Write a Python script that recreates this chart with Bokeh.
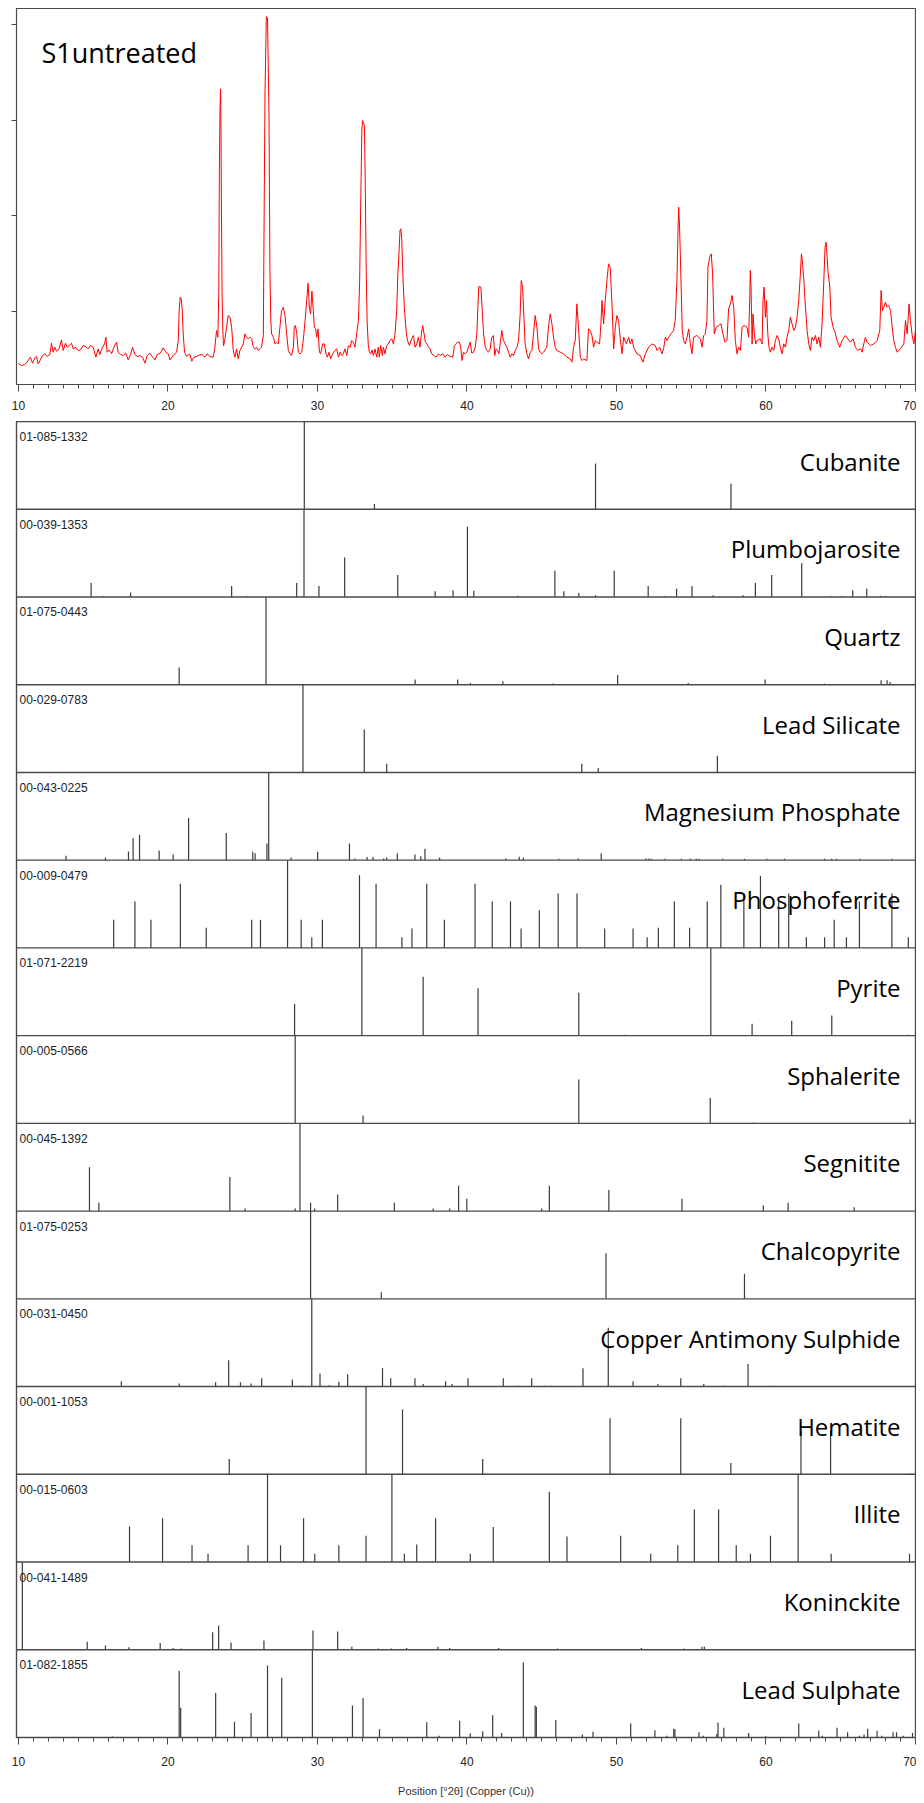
from bokeh.plotting import figure
from bokeh.layouts import column
from bokeh.models import Range1d, SingleIntervalTicker, FixedTicker, Span, CustomJSTickFormatter
from bokeh.core.properties import value
from bokeh.embed import file_html
from bokeh.resources import INLINE

# ---------------- data ----------------
SAMPLE_NAME = "S1untreated"
X_AXIS_LABEL = "Position [°2θ] (Copper (Cu))"
X_START, X_END = 9.87, 70.0
Y_BOTTOM, Y_TOP = 236, 4172
Y_TICKS = [1000, 2000, 3000, 4000]

SCAN_2THETA = [
    10.00, 10.04, 10.20, 10.42, 10.58, 10.71, 10.80, 10.94, 11.09, 11.21,
    11.32, 11.47, 11.61, 11.76, 11.92, 12.10, 12.21, 12.32, 12.43, 12.54,
    12.72, 12.88, 12.99, 13.15, 13.26, 13.39, 13.55, 13.66, 13.84, 13.99,
    14.15, 14.33, 14.51, 14.66, 14.82, 15.00, 15.18, 15.33, 15.44, 15.62,
    15.76, 15.85, 15.93, 16.07, 16.23, 16.38, 16.56, 16.67, 16.83, 17.01,
    17.18, 17.34, 17.50, 17.63, 17.79, 17.94, 18.12, 18.30, 18.46, 18.61,
    18.79, 18.97, 19.13, 19.28, 19.50, 19.68, 19.86, 20.02, 20.13, 20.26,
    20.40, 20.58, 20.69, 20.75, 20.82, 20.89, 20.96, 21.02, 21.11, 21.25,
    21.38, 21.47, 21.60, 21.74, 21.91, 22.09, 22.27, 22.47, 22.63, 22.81,
    23.03, 23.14, 23.25, 23.34, 23.40, 23.44, 23.48, 23.52, 23.55, 23.58,
    23.62, 23.67, 23.72, 23.80, 23.92, 24.03, 24.15, 24.26, 24.37, 24.48,
    24.59, 24.70, 24.81, 24.93, 25.04, 25.15, 25.26, 25.37, 25.48, 25.60,
    25.71, 25.82, 25.93, 26.04, 26.26, 26.38, 26.42, 26.49, 26.58, 26.66,
    26.76, 26.82, 26.88, 26.93, 27.05, 27.16, 27.27, 27.38, 27.49, 27.60,
    27.72, 27.83, 27.94, 28.05, 28.16, 28.27, 28.39, 28.45, 28.52, 28.61,
    28.72, 28.83, 28.94, 29.05, 29.17, 29.28, 29.37, 29.46, 29.54, 29.63,
    29.72, 29.79, 29.88, 29.95, 30.04, 30.13, 30.21, 30.35, 30.46, 30.57,
    30.66, 30.77, 30.88, 31.02, 31.17, 31.29, 31.40, 31.51, 31.62, 31.73,
    31.84, 31.96, 32.07, 32.18, 32.29, 32.40, 32.51, 32.62, 32.74, 32.82,
    32.90, 32.97, 33.02, 33.08, 33.14, 33.20, 33.26, 33.32, 33.40, 33.47,
    33.56, 33.65, 33.74, 33.85, 33.96, 34.07, 34.14, 34.23, 34.34, 34.41,
    34.52, 34.63, 34.74, 34.85, 34.97, 35.08, 35.19, 35.30, 35.38, 35.45,
    35.52, 35.58, 35.64, 35.72, 35.81, 35.93, 36.02, 36.15, 36.30, 36.42,
    36.53, 36.64, 36.75, 36.86, 36.95, 37.04, 37.13, 37.22, 37.31, 37.44,
    37.53, 37.64, 37.80, 37.93, 38.09, 38.20, 38.38, 38.54, 38.69, 38.87,
    39.05, 39.16, 39.27, 39.36, 39.50, 39.58, 39.67, 39.76, 39.88, 39.99,
    40.10, 40.21, 40.32, 40.44, 40.55, 40.66, 40.73, 40.79, 40.93, 41.02,
    41.11, 41.22, 41.33, 41.44, 41.55, 41.66, 41.77, 41.86, 41.95, 42.04,
    42.13, 42.22, 42.33, 42.44, 42.56, 42.67, 42.78, 42.89, 43.00, 43.11,
    43.23, 43.34, 43.45, 43.56, 43.63, 43.72, 43.81, 43.89, 44.01, 44.12,
    44.23, 44.34, 44.45, 44.56, 44.68, 44.79, 44.90, 45.01, 45.12, 45.34,
    45.46, 45.57, 45.68, 45.79, 45.90, 46.01, 46.24, 46.46, 46.68, 46.91,
    47.02, 47.13, 47.24, 47.35, 47.46, 47.58, 47.69, 47.80, 48.02, 48.13,
    48.25, 48.36, 48.47, 48.58, 48.69, 48.87, 48.96, 49.03, 49.14, 49.25,
    49.36, 49.47, 49.58, 49.70, 49.81, 49.92, 50.03, 50.14, 50.25, 50.37,
    50.48, 50.66, 50.81, 50.92, 51.03, 51.15, 51.37, 51.59, 51.77, 51.93,
    52.15, 52.37, 52.60, 52.71, 52.89, 53.04, 53.15, 53.27, 53.38, 53.49,
    53.64, 53.82, 53.93, 54.05, 54.11, 54.16, 54.22, 54.31, 54.40, 54.49,
    54.60, 54.72, 54.83, 54.94, 55.05, 55.16, 55.38, 55.61, 55.72, 55.83,
    55.94, 56.05, 56.12, 56.23, 56.34, 56.43, 56.54, 56.68, 56.83, 56.99,
    57.12, 57.26, 57.39, 57.50, 57.62, 57.73, 57.84, 57.95, 58.06, 58.17,
    58.29, 58.40, 58.55, 58.73, 58.84, 58.91, 58.95, 59.00, 59.07, 59.13,
    59.22, 59.31, 59.40, 59.62, 59.74, 59.80, 59.87, 59.96, 60.03, 60.12,
    60.20, 60.29, 60.40, 60.52, 60.63, 60.74, 60.85, 60.96, 61.07, 61.19,
    61.30, 61.41, 61.52, 61.63, 61.74, 61.86, 61.97, 62.08, 62.19, 62.30,
    62.37, 62.43, 62.52, 62.64, 62.75, 62.86, 62.97, 63.08, 63.19, 63.31,
    63.42, 63.53, 63.64, 63.75, 63.86, 63.95, 64.02, 64.09, 64.15, 64.27,
    64.35, 64.49, 64.62, 64.76, 64.93, 65.09, 65.31, 65.47, 65.65, 65.83,
    65.98, 66.14, 66.32, 66.43, 66.54, 66.65, 66.76, 66.99, 67.21, 67.43,
    67.61, 67.70, 67.79, 67.88, 67.99, 68.10, 68.21, 68.33, 68.44, 68.55,
    68.66, 68.77, 68.99, 69.22, 69.33, 69.44, 69.57, 69.66, 69.78, 69.89,
    70.00,
]
SCAN_COUNTS = [
    459, 452, 434, 445, 469, 504, 522, 459, 515, 529,
    452, 494, 539, 557, 529, 550, 668, 574, 626, 585,
    609, 703, 592, 668, 626, 644, 668, 609, 626, 592,
    598, 644, 633, 609, 644, 626, 522, 609, 550, 626,
    661, 731, 574, 598, 557, 626, 679, 574, 550, 539,
    564, 494, 550, 626, 550, 529, 539, 522, 459, 539,
    564, 522, 494, 550, 564, 619, 574, 557, 494, 522,
    550, 574, 696, 1010, 1150, 1132, 1010, 766, 574, 529,
    550, 550, 480, 522, 529, 543, 550, 522, 557, 529,
    522, 626, 801, 731, 1200, 2476, 3100, 3331, 2860, 2000,
    1200, 800, 640, 700, 836, 958, 941, 836, 592, 522,
    609, 504, 592, 626, 661, 766, 731, 714, 731, 714,
    626, 609, 626, 592, 626, 749, 1708, 3279, 4088, 4070,
    3035, 1429, 900, 766, 731, 661, 679, 661, 836, 1010,
    1045, 958, 766, 592, 557, 539, 626, 836, 853, 783,
    574, 557, 574, 696, 906, 1115, 1296, 1045, 975, 1213,
    1010, 836, 818, 731, 818, 574, 557, 661, 661, 557,
    522, 574, 504, 557, 592, 609, 522, 574, 539, 557,
    609, 539, 644, 626, 696, 679, 626, 766, 906, 1300,
    2200, 2900, 2999, 2980, 2947, 2300, 1450, 900, 650, 574,
    557, 598, 539, 609, 522, 626, 522, 644, 539, 626,
    557, 644, 661, 696, 714, 661, 766, 1010, 1400, 1600,
    1848, 1865, 1750, 1350, 1045, 801, 696, 644, 714, 749,
    626, 661, 731, 626, 766, 853, 766, 679, 661, 626,
    609, 557, 539, 522, 557, 539, 557, 522, 550, 529,
    522, 644, 661, 679, 679, 626, 487, 574, 557, 574,
    626, 679, 564, 574, 626, 766, 1045, 1262, 1255, 1010,
    766, 626, 592, 574, 609, 731, 749, 539, 609, 592,
    557, 661, 801, 696, 661, 626, 574, 522, 557, 539,
    592, 626, 696, 975, 1324, 1255, 941, 661, 557, 504,
    574, 592, 766, 958, 836, 609, 574, 557, 574, 626,
    853, 975, 871, 731, 626, 592, 574, 557, 522, 504,
    469, 626, 696, 1080, 836, 522, 487, 504, 487, 818,
    801, 749, 626, 696, 679, 661, 871, 1115, 871, 1115,
    1324, 1499, 1464, 1080, 609, 836, 958, 906, 714, 557,
    731, 661, 731, 661, 714, 626, 557, 539, 469, 557,
    626, 661, 644, 592, 626, 557, 609, 731, 696, 731,
    766, 801, 906, 1359, 1813, 2092, 1883, 1359, 801, 696,
    661, 731, 818, 661, 557, 731, 749, 714, 626, 749,
    766, 906, 1464, 1569, 1604, 1394, 766, 836, 853, 871,
    766, 679, 696, 1028, 1080, 1167, 1045, 696, 557, 626,
    592, 836, 853, 836, 731, 1115, 1429, 1255, 661, 975,
    766, 661, 696, 714, 661, 1115, 1255, 941, 1115, 766,
    626, 574, 626, 592, 696, 749, 714, 626, 557, 661,
    626, 731, 801, 941, 871, 801, 836, 941, 1115, 1394,
    1604, 1534, 1359, 1045, 801, 661, 592, 731, 696, 749,
    661, 731, 626, 871, 1289, 1673, 1726, 1569, 1412, 1255,
    941, 836, 783, 696, 626, 696, 749, 714, 679, 714,
    626, 592, 609, 574, 661, 731, 679, 644, 661, 696,
    801, 1220, 1010, 1045, 1098, 1045, 1063, 1010, 836, 696,
    626, 574, 609, 661, 906, 766, 1080, 906, 749, 661,
    801,
]

PHASE_NAMES = ["Cubanite", "Plumbojarosite", "Quartz", "Lead Silicate",
               "Magnesium Phosphate", "Phosphoferrite", "Pyrite", "Sphalerite",
               "Segnitite", "Chalcopyrite", "Copper Antimony Sulphide",
               "Hematite", "Illite", "Koninckite", "Lead Sulphate"]
REF_CODES = ["01-085-1332", "00-039-1353", "01-075-0443", "00-029-0783",
             "00-043-0225", "00-009-0479", "01-071-2219", "00-005-0566",
             "00-045-1392", "01-075-0253", "00-031-0450", "00-001-1053",
             "00-015-0603", "00-041-1489", "01-082-1855"]

CUBANITE_POS = [29.12, 33.81, 48.60, 57.66]
CUBANITE_INT = [100, 6, 52, 29]

PLUMBOJAROSITE_POS = [14.86, 15.67, 17.50, 24.26, 25.28, 28.61, 29.10, 30.10, 31.82, 35.37,
                      37.87, 39.07, 40.03, 40.46, 43.40, 45.88, 46.48, 47.48, 48.60, 49.85,
                      52.12, 53.24, 54.02, 55.05, 56.47, 58.46, 59.29, 60.38, 62.39, 64.33,
                      65.09, 65.80, 66.74, 67.70, 68.01]
PLUMBOJAROSITE_INT = [16, 1, 5, 12.6, 1, 16, 100, 12.6, 45, 25,
                      6.5, 7.6, 80, 7, 1.5, 30, 6.5, 4.5, 2, 30,
                      12.6, 1, 9.5, 12.6, 2, 2, 16, 25, 38.5, 1,
                      1, 7.6, 9.5, 1.5, 1]

QUARTZ_POS = [20.75, 26.56, 36.53, 39.38, 40.23, 42.40, 45.75, 50.08, 54.80, 59.94,
              63.90, 67.70, 68.10, 68.30]
QUARTZ_INT = [19.5, 100, 6, 6, 2, 4, 1.5, 11, 2, 6, 1.5, 5, 5, 3]

LEAD_SILICATE_POS = [29.03, 33.13, 34.63, 47.68, 48.78, 56.75]
LEAD_SILICATE_INT = [100, 49, 10, 10, 5, 19]

MG_PHOSPHATE_POS = [13.18, 15.82, 17.36, 17.67, 18.10, 19.41, 20.35, 21.38, 23.90, 25.67,
                    25.83, 26.62, 26.74, 28.24, 30.01, 32.14, 32.50, 33.32, 33.72, 34.43,
                    34.63, 35.34, 36.52, 36.91, 37.19, 38.17, 42.59, 43.50, 43.77, 46.14,
                    47.44, 48.98, 51.98, 52.17, 52.33, 53.24, 54.34, 54.93, 55.33, 55.52,
                    57.10, 58.56, 60.06, 61.24, 63.92, 64.40, 64.71, 66.29, 68.42]
MG_PHOSPHATE_INT = [5, 3, 10, 25, 29, 11, 6.5, 48, 31, 9.5,
                    8, 19, 100, 3, 9.5, 19, 2, 3.5, 3.5, 2,
                    3, 8, 6.5, 4.5, 13, 3, 2, 4, 3, 1.5,
                    2, 8, 2, 2, 1.5, 1.5, 1.5, 2, 1.5, 1.5,
                    1.5, 1.5, 1.5, 1.5, 1.5, 1.5, 1.5, 1.5, 1.5]

PHOSPHOFERRITE_POS = [16.37, 17.79, 18.86, 20.83, 22.56, 25.60, 26.19, 28.00, 28.91, 29.62,
                      30.33, 32.81, 33.92, 35.65, 36.32, 37.31, 38.49, 40.54, 41.69, 42.91,
                      43.62, 44.84, 46.10, 47.36, 49.21, 51.11, 52.05, 52.80, 53.87, 54.89,
                      56.07, 56.98, 58.52, 59.63, 60.85, 61.52, 62.70, 63.92, 64.56, 65.38,
                      66.25, 68.42, 69.52]
PHOSPHOFERRITE_INT = [32, 53, 32, 73, 23, 32, 32, 100, 32, 12,
                      32, 83, 73, 12, 22, 73, 32, 73, 53, 53,
                      22, 43, 62, 62, 22, 22, 12, 23, 53, 23,
                      53, 72, 62, 82, 53, 62, 12, 12, 32, 12,
                      53, 62, 12]

PYRITE_POS = [28.47, 32.97, 37.07, 40.74, 47.48, 50.56, 56.31, 59.07, 61.72, 64.40, 69.52]
PYRITE_INT = [36, 100, 67, 54, 49, 1, 100, 13.5, 17, 23, 1]

SPHALERITE_POS = [28.51, 33.05, 47.48, 56.27, 59.19, 69.64]
SPHALERITE_INT = [100, 9, 50, 29, 1, 4.5]

SEGNITITE_POS = [14.75, 15.38, 24.14, 25.16, 28.51, 28.83, 29.54, 29.81, 31.35, 35.14,
                 37.74, 38.84, 39.44, 39.99, 45.00, 45.51, 49.49, 54.38, 59.82, 61.48,
                 65.90]
SEGNITITE_INT = [50, 9.5, 39, 3, 3, 100, 9.5, 3, 19, 9.5,
                 3, 3, 29, 14, 3, 29, 24, 14, 6.5, 9.5,
                 4.5]

CHALCOPYRITE_POS = [29.54, 34.27, 49.30, 58.56]
CHALCOPYRITE_INT = [100, 7.6, 52, 28.5]

CU_SB_SULPHIDE_POS = [16.88, 20.75, 23.19, 24.06, 24.85, 25.56, 26.27, 28.32, 29.03, 29.62,
                      30.17, 30.80, 31.43, 32.02, 34.35, 34.90, 36.52, 37.07, 38.57, 39.00,
                      40.07, 42.43, 43.42, 44.33, 45.23, 45.63, 47.76, 49.45, 51.11, 52.77,
                      54.30, 55.84, 57.22, 58.80, 60.30]
CU_SB_SULPHIDE_INT = [6, 3.5, 5, 30, 5, 3.5, 9.5, 8, 1, 100,
                      15, 1.5, 5.5, 14, 21, 9.5, 9.5, 3, 6, 3,
                      9.5, 9.5, 1, 9.5, 1, 1, 21, 67, 6, 3,
                      9.5, 3, 1, 25.6, 1]

HEMATITE_POS = [24.10, 33.25, 35.69, 41.05, 49.57, 54.30, 57.65, 62.34, 64.32, 69.64]
HEMATITE_INT = [17.4, 100, 74, 17.4, 64, 64, 13, 50, 50, 1]

ILLITE_POS = [17.43, 19.64, 21.61, 22.68, 25.36, 26.66, 27.53, 29.07, 29.82, 31.43,
              33.25, 34.98, 35.81, 36.64, 37.90, 40.22, 41.76, 45.51, 46.69, 50.28,
              52.29, 54.10, 55.21, 56.83, 58.01, 58.96, 60.30, 62.15, 64.36, 69.60]
ILLITE_INT = [40.5, 50, 19, 9.5, 19, 100, 19, 50, 9.5, 19,
              30, 100, 9.5, 20, 50, 9.5, 40, 80, 29, 30,
              9.5, 19, 60, 60, 19, 9.5, 30, 100, 9.5, 9.5]

KONINCKITE_POS = [10.26, 14.60, 15.82, 17.39, 19.48, 20.35, 20.90, 22.99, 23.39, 24.22,
                  26.42, 27.45, 29.70, 31.35, 32.30, 34.07, 34.94, 35.97, 38.06, 38.84,
                  42.12, 44.01, 46.06, 49.17, 51.66, 54.54, 55.72, 55.88, 60.30, 63.10]
KONINCKITE_INT = [100, 9, 5, 3, 7.7, 2, 1.5, 20, 27.6, 8.4,
                  10.7, 1, 22, 20.7, 3.5, 1.5, 1.5, 2, 3.5, 2,
                  2, 1, 1.5, 1, 2, 1.5, 3.5, 3.5, 1, 1]

LEAD_SULPHATE_POS = [16.29, 20.75, 20.85, 23.19, 24.45, 25.56, 26.66, 27.61, 29.66, 32.34,
                     33.05, 34.15, 37.31, 38.13, 39.51, 40.22, 41.05, 41.72, 42.32, 43.77,
                     44.56, 44.64, 45.94, 47.72, 48.43, 50.95, 52.57, 53.36, 53.83, 53.91,
                     55.52, 55.80, 56.71, 56.79, 57.18, 58.84, 59.98, 62.19, 63.53, 63.76,
                     64.75, 65.46, 66.25, 66.56, 66.80, 67.43, 67.74, 68.50, 68.73, 69.17,
                     69.80]
LEAD_SULPHATE_INT = [1, 76, 34, 50.6, 18, 28, 82, 68, 100, 36.5,
                     45, 9.5, 17.5, 2, 19, 4.5, 7, 25.5, 5, 85.5,
                     36.5, 35, 20, 3.5, 6.5, 16, 8.4, 2, 10, 9.5,
                     6, 2, 4, 17, 11, 5, 1.5, 16, 8, 2,
                     11, 6, 2, 3.5, 10, 7.6, 2, 6, 6, 2,
                     5]

PHASE_STICKS = [
    (CUBANITE_POS, CUBANITE_INT),
    (PLUMBOJAROSITE_POS, PLUMBOJAROSITE_INT),
    (QUARTZ_POS, QUARTZ_INT),
    (LEAD_SILICATE_POS, LEAD_SILICATE_INT),
    (MG_PHOSPHATE_POS, MG_PHOSPHATE_INT),
    (PHOSPHOFERRITE_POS, PHOSPHOFERRITE_INT),
    (PYRITE_POS, PYRITE_INT),
    (SPHALERITE_POS, SPHALERITE_INT),
    (SEGNITITE_POS, SEGNITITE_INT),
    (CHALCOPYRITE_POS, CHALCOPYRITE_INT),
    (CU_SB_SULPHIDE_POS, CU_SB_SULPHIDE_INT),
    (HEMATITE_POS, HEMATITE_INT),
    (ILLITE_POS, ILLITE_INT),
    (KONINCKITE_POS, KONINCKITE_INT),
    (LEAD_SULPHATE_POS, LEAD_SULPHATE_INT),
]

# ---------------- styles ----------------
FRAME_COLOR = "#4a4a4a"
TICK_FONT = value("Liberation Sans")
N = len(PHASE_NAMES)


def style_xaxis(ax):
    ax.ticker = SingleIntervalTicker(interval=10, num_minor_ticks=10)
    ax.axis_line_color = FRAME_COLOR
    ax.axis_line_width = 1.2
    ax.major_tick_line_color = FRAME_COLOR
    ax.minor_tick_line_color = FRAME_COLOR
    ax.major_tick_in = 0
    ax.minor_tick_in = 0
    ax.major_tick_out = 7
    ax.minor_tick_out = 4
    ax.major_label_text_font = "Liberation Sans"
    ax.major_label_text_font_size = "12px"
    ax.major_label_text_color = "#222222"


# ---------------- top panel: measured scan ----------------
p1 = figure(frame_width=899, frame_height=376,
            x_range=Range1d(X_START, X_END), y_range=Range1d(Y_BOTTOM, Y_TOP),
            output_backend="svg", toolbar_location=None,
            min_border_left=16, min_border_right=1, min_border_top=8, min_border_bottom=37,
            background_fill_color="white", border_fill_color="white")
p1.grid.visible = False
p1.outline_line_color = FRAME_COLOR
p1.outline_line_width = 1.2
p1.line(SCAN_2THETA, SCAN_COUNTS, line_color="#ff0000", line_width=1)
style_xaxis(p1.xaxis[0])
p1.xaxis[0].major_label_standoff = 9
ya = p1.yaxis[0]
ya.ticker = FixedTicker(ticks=Y_TICKS)
ya.formatter = CustomJSTickFormatter(code="return '';")
ya.axis_line_color = FRAME_COLOR
ya.major_tick_line_color = FRAME_COLOR
ya.major_tick_in = 0
ya.major_tick_out = 5
ya.minor_tick_out = 0
ya.minor_tick_in = 0
ya.major_label_standoff = 0
p1.text(x=[X_START], y=[Y_TOP], text=[SAMPLE_NAME], x_offset=25, y_offset=44,
        text_font=value("Open Sans"), text_font_size="27px", text_color="black",
        text_baseline="alphabetic")

# ---------------- lower panels: reference sticks ----------------
p2 = figure(frame_width=899, frame_height=1316,
            x_range=Range1d(X_START, X_END), y_range=Range1d(0, N),
            y_axis_location=None,
            output_backend="svg", toolbar_location=None,
            min_border_left=16, min_border_right=1, min_border_top=0, min_border_bottom=64,
            background_fill_color="white", border_fill_color="white")
p2.grid.visible = False
p2.outline_line_color = FRAME_COLOR
p2.outline_line_width = 1.4
style_xaxis(p2.xaxis[0])
p2.xaxis[0].major_label_standoff = 12
p2.xaxis[0].axis_label = X_AXIS_LABEL
p2.xaxis[0].axis_label_text_font = "Liberation Sans"
p2.xaxis[0].axis_label_text_font_style = "normal"
p2.xaxis[0].axis_label_text_font_size = "11px"
p2.xaxis[0].axis_label_text_color = "#333333"
p2.xaxis[0].axis_label_standoff = 16

xs0, ys0, ys1 = [], [], []
for i, (pos, inten) in enumerate(PHASE_STICKS):
    base = N - 1 - i
    for xv, hv in zip(pos, inten):
        xs0.append(xv)
        ys0.append(base)
        ys1.append(base + hv / 100.0)
p2.segment(x0=xs0, y0=ys0, x1=xs0, y1=ys1, line_color="#3a3a3a", line_width=1.2)

for k in range(1, N):
    p2.add_layout(Span(location=k, dimension="width", line_color=FRAME_COLOR, line_width=1.4))

tops = [N - i for i in range(N)]
p2.text(x=[X_START] * N, y=tops, text=REF_CODES, x_offset=3, y_offset=15,
        text_font=TICK_FONT, text_font_size="12px", text_color="#222222",
        text_baseline="alphabetic")
p2.text(x=[X_END] * N, y=tops, text=PHASE_NAMES, x_offset=-15, y_offset=39.5,
        text_font=value("Open Sans"), text_font_size="24px", text_color="black",
        text_align="right", text_baseline="alphabetic")

layout = column(p1, p2, spacing=0)
open("out.html", "w").write(file_html(layout, INLINE))
